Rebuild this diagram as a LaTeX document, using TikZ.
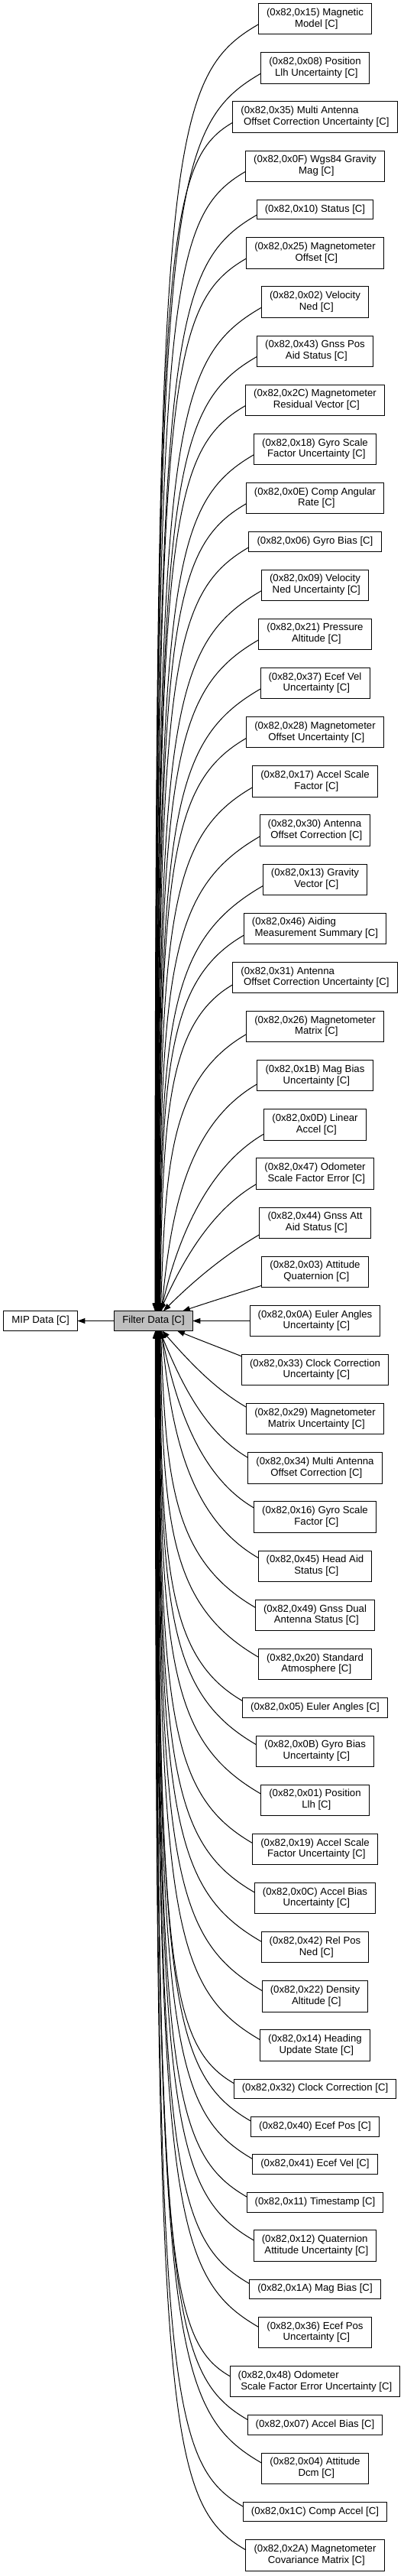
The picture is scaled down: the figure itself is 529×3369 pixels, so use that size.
\documentclass[tikz,border=0pt]{standalone}
\usepackage{fontspec}
\setmainfont{Liberation Sans}
\usepackage{tikz}
\usetikzlibrary{positioning, calc, arrows.meta}
\definecolor{currentFill}{RGB}{191,191,191}
\tikzstyle{groupGraph} = [x = 1pt, y = -1pt]
\tikzstyle{groupNode} = [draw=black, fill=white, line width=1pt, inner xsep=10.6pt, inner ysep=5.45pt, outer sep=0pt, font=\fontsize{13.2}{14.7}\selectfont]
\tikzstyle{currentNode} = [groupNode, fill=currentFill]
\tikzstyle{groupEdgeLine} = [color=black, line width=1pt, arrows={Triangle[length=10pt, width=7pt]-}]
\tikzstyle{parentEdgeLine} = [color=black, line width=1pt, arrows={-Triangle[length=10pt, width=7pt]}]
\newcommand{\groupGap}{23.85pt}
\newcommand{\twoLines}[2]{\begin{tabular}{@{}l@{}}#1\\\hfil\ #2\end{tabular}}
\newcommand{\oneLine}[1]{\begin{tabular}{@{}l@{}}#1\end{tabular}}
\newcommand{\firstGroup}[2]{\node [groupNode, anchor=north] (#1) at (412.5, 4.7) {#2};}
\newcommand{\nextGroup}[3]{\node [groupNode, below = \groupGap of #2] (#1) {#3};}
\newcommand{\groupEdge}[1]{
  \pgfpointanchor{filterData}{center}\pgfgetlastxy{\filterX}{\filterY}
  \pgfpointanchor{filterData}{north east}\pgfgetlastxy{\filterEX}{\filterNY}
  \pgfpointanchor{#1}{west}\pgfgetlastxy{\memberX}{\memberY}
  \pgfpointanchor{#1}{north}\pgfgetlastxy{\memberNX}{\memberNY}
  \pgfmathsetmacro{\edgeHalfW}{\filterEX-\filterX}
  \pgfmathsetmacro{\edgeHalfH}{\filterNY-\filterY}
  \pgfmathsetmacro{\edgeSide}{(\memberY>\filterY)-(\memberY<\filterY)}
  \pgfmathsetmacro{\edgeDist}{abs(\memberY-\filterY)}
  \pgfmathsetmacro{\edgeEnd}{min(\memberNY-\memberY-0.6,7+14*exp(-\edgeDist/250))*min(1,\edgeDist/20)}
  \pgfmathsetmacro{\edgeRiseY}{\edgeDist-\edgeEnd}
  \pgfmathsetmacro{\edgeRunX}{\memberX-\filterX}
  \pgfmathsetmacro{\edgeStartAngle}{atan(min(\edgeRiseY/\edgeRunX*exp(min((\edgeRiseY/250)^2,6)),6000))}
  \pgfmathsetmacro{\edgeLane}{(2+9*(1-min(1,\edgeDist/1700)))*min(1,max(0,(\edgeDist-150)/150))}
  \pgfmathsetmacro{\edgeStartX}{min(\edgeHalfW,\edgeLane+\edgeHalfH*cos(\edgeStartAngle)/max(sin(\edgeStartAngle),0.001))}
  \pgfmathsetmacro{\edgeStartY}{min(\edgeHalfH,(\edgeHalfW-\edgeLane)*sin(\edgeStartAngle)/max(cos(\edgeStartAngle),0.05))}
  \pgfmathsetmacro{\edgeRestX}{\edgeRunX-\edgeStartX}
  \pgfmathsetmacro{\edgeRestY}{\edgeRiseY-\edgeStartY}
  \pgfmathsetmacro{\edgeChord}{100*veclen(\edgeRestX/100,\edgeRestY/100)}
  \pgfmathsetmacro{\edgeEndAngle}{min(30,atan(\edgeRestY/\edgeRestX))}
  \pgfmathsetmacro{\edgeReachA}{max(\edgeChord/3,\edgeRestY-170)}
  \pgfmathsetmacro{\edgeReachB}{min(150,\edgeChord/3,0.9*\edgeRestX/cos(\edgeEndAngle))}
  \pgfmathsetmacro{\tailY}{\edgeSide*\edgeStartY}
  \pgfmathsetmacro{\tailCX}{\edgeStartX+\edgeReachA*cos(\edgeStartAngle)}
  \pgfmathsetmacro{\tailCY}{\edgeSide*(\edgeStartY+\edgeReachA*sin(\edgeStartAngle))}
  \pgfmathsetmacro{\headCX}{-\edgeReachB*cos(\edgeEndAngle)}
  \pgfmathsetmacro{\headCY}{-\edgeSide*(\edgeEnd+\edgeReachB*sin(\edgeEndAngle))}
  \pgfmathsetmacro{\headY}{-\edgeSide*\edgeEnd}
  \draw [groupEdgeLine] ($(filterData.center)+(\edgeStartX pt,\tailY pt)$)
    .. controls ($(filterData.center)+(\tailCX pt,\tailCY pt)$) and ($(#1.west)+(\headCX pt,\headCY pt)$)
    .. ($(#1.west)+(0pt,\headY pt)$);
}

\begin{document}
\begin{tikzpicture}[groupGraph]
  \useasboundingbox (0,0) rectangle (529,3369);
  \firstGroup{sub1}{\twoLines{(0x82,0x15) Magnetic}{Model [C]}}
  \nextGroup{sub2}{sub1}{\twoLines{(0x82,0x08) Position}{Llh Uncertainty [C]}}
  \nextGroup{sub3}{sub2}{\twoLines{(0x82,0x35) Multi Antenna}{Offset Correction Uncertainty [C]}}
  \nextGroup{sub4}{sub3}{\twoLines{(0x82,0x0F) Wgs84 Gravity}{Mag [C]}}
  \nextGroup{sub5}{sub4}{\oneLine{(0x82,0x10) Status [C]}}
  \nextGroup{sub6}{sub5}{\twoLines{(0x82,0x25) Magnetometer}{Offset [C]}}
  \nextGroup{sub7}{sub6}{\twoLines{(0x82,0x02) Velocity}{Ned [C]}}
  \nextGroup{sub8}{sub7}{\twoLines{(0x82,0x43) Gnss Pos}{Aid Status [C]}}
  \nextGroup{sub9}{sub8}{\twoLines{(0x82,0x2C) Magnetometer}{Residual Vector [C]}}
  \nextGroup{sub10}{sub9}{\twoLines{(0x82,0x18) Gyro Scale}{Factor Uncertainty [C]}}
  \nextGroup{sub11}{sub10}{\twoLines{(0x82,0x0E) Comp Angular}{Rate [C]}}
  \nextGroup{sub12}{sub11}{\oneLine{(0x82,0x06) Gyro Bias [C]}}
  \nextGroup{sub13}{sub12}{\twoLines{(0x82,0x09) Velocity}{Ned Uncertainty [C]}}
  \nextGroup{sub14}{sub13}{\twoLines{(0x82,0x21) Pressure}{Altitude [C]}}
  \nextGroup{sub15}{sub14}{\twoLines{(0x82,0x37) Ecef Vel}{Uncertainty [C]}}
  \nextGroup{sub16}{sub15}{\twoLines{(0x82,0x28) Magnetometer}{Offset Uncertainty [C]}}
  \nextGroup{sub17}{sub16}{\twoLines{(0x82,0x17) Accel Scale}{Factor [C]}}
  \nextGroup{sub18}{sub17}{\twoLines{(0x82,0x30) Antenna}{Offset Correction [C]}}
  \nextGroup{sub19}{sub18}{\twoLines{(0x82,0x13) Gravity}{Vector [C]}}
  \nextGroup{sub20}{sub19}{\twoLines{(0x82,0x46) Aiding}{Measurement Summary [C]}}
  \nextGroup{sub21}{sub20}{\twoLines{(0x82,0x31) Antenna}{Offset Correction Uncertainty [C]}}
  \nextGroup{sub22}{sub21}{\twoLines{(0x82,0x26) Magnetometer}{Matrix [C]}}
  \nextGroup{sub23}{sub22}{\twoLines{(0x82,0x1B) Mag Bias}{Uncertainty [C]}}
  \nextGroup{sub24}{sub23}{\twoLines{(0x82,0x0D) Linear}{Accel [C]}}
  \nextGroup{sub25}{sub24}{\twoLines{(0x82,0x47) Odometer}{Scale Factor Error [C]}}
  \nextGroup{sub26}{sub25}{\twoLines{(0x82,0x44) Gnss Att}{Aid Status [C]}}
  \nextGroup{sub27}{sub26}{\twoLines{(0x82,0x03) Attitude}{Quaternion [C]}}
  \nextGroup{sub28}{sub27}{\twoLines{(0x82,0x0A) Euler Angles}{Uncertainty [C]}}
  \nextGroup{sub29}{sub28}{\twoLines{(0x82,0x33) Clock Correction}{Uncertainty [C]}}
  \nextGroup{sub30}{sub29}{\twoLines{(0x82,0x29) Magnetometer}{Matrix Uncertainty [C]}}
  \nextGroup{sub31}{sub30}{\twoLines{(0x82,0x34) Multi Antenna}{Offset Correction [C]}}
  \nextGroup{sub32}{sub31}{\twoLines{(0x82,0x16) Gyro Scale}{Factor [C]}}
  \nextGroup{sub33}{sub32}{\twoLines{(0x82,0x45) Head Aid}{Status [C]}}
  \nextGroup{sub34}{sub33}{\twoLines{(0x82,0x49) Gnss Dual}{Antenna Status [C]}}
  \nextGroup{sub35}{sub34}{\twoLines{(0x82,0x20) Standard}{Atmosphere [C]}}
  \nextGroup{sub36}{sub35}{\oneLine{(0x82,0x05) Euler Angles [C]}}
  \nextGroup{sub37}{sub36}{\twoLines{(0x82,0x0B) Gyro Bias}{Uncertainty [C]}}
  \nextGroup{sub38}{sub37}{\twoLines{(0x82,0x01) Position}{Llh [C]}}
  \nextGroup{sub39}{sub38}{\twoLines{(0x82,0x19) Accel Scale}{Factor Uncertainty [C]}}
  \nextGroup{sub40}{sub39}{\twoLines{(0x82,0x0C) Accel Bias}{Uncertainty [C]}}
  \nextGroup{sub41}{sub40}{\twoLines{(0x82,0x42) Rel Pos}{Ned [C]}}
  \nextGroup{sub42}{sub41}{\twoLines{(0x82,0x22) Density}{Altitude [C]}}
  \nextGroup{sub43}{sub42}{\twoLines{(0x82,0x14) Heading}{Update State [C]}}
  \nextGroup{sub44}{sub43}{\oneLine{(0x82,0x32) Clock Correction [C]}}
  \nextGroup{sub45}{sub44}{\oneLine{(0x82,0x40) Ecef Pos [C]}}
  \nextGroup{sub46}{sub45}{\oneLine{(0x82,0x41) Ecef Vel [C]}}
  \nextGroup{sub47}{sub46}{\oneLine{(0x82,0x11) Timestamp [C]}}
  \nextGroup{sub48}{sub47}{\twoLines{(0x82,0x12) Quaternion}{Attitude Uncertainty [C]}}
  \nextGroup{sub49}{sub48}{\oneLine{(0x82,0x1A) Mag Bias [C]}}
  \nextGroup{sub50}{sub49}{\twoLines{(0x82,0x36) Ecef Pos}{Uncertainty [C]}}
  \nextGroup{sub51}{sub50}{\twoLines{(0x82,0x48) Odometer}{Scale Factor Error Uncertainty [C]}}
  \nextGroup{sub52}{sub51}{\oneLine{(0x82,0x07) Accel Bias [C]}}
  \nextGroup{sub53}{sub52}{\twoLines{(0x82,0x04) Attitude}{Dcm [C]}}
  \nextGroup{sub54}{sub53}{\oneLine{(0x82,0x1C) Comp Accel [C]}}
  \nextGroup{sub55}{sub54}{\twoLines{(0x82,0x2A) Magnetometer}{Covariance Matrix [C]}}

  \coordinate (filterAxis) at (201,0);
  \node [currentNode] (filterData) at (sub28 -| filterAxis) {\oneLine{Filter Data [C]}};
  \node [groupNode, left = 48.2pt of filterData] (mipData) {\oneLine{MIP Data [C]}};
  \draw [parentEdgeLine] (filterData) -- (mipData);

  \foreach \member in {1,...,55} {
    \groupEdge{sub\member}
  }
\end{tikzpicture}
\end{document}
